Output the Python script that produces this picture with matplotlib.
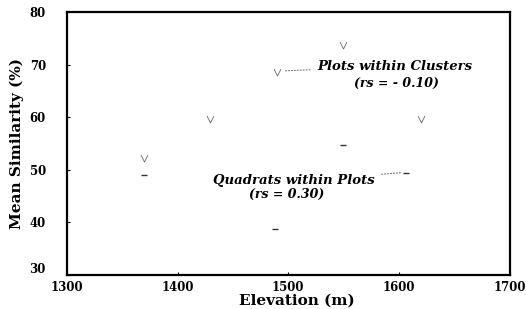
import matplotlib.pyplot as plt
from matplotlib import transforms

# data
cluster_elev = [1370, 1429, 1490, 1549, 1620]
cluster_sim = [52.2, 59.7, 68.6, 73.7, 59.7]

quadrat_elev = [1370, 1488, 1549, 1606]
quadrat_sim = [49.0, 38.7, 54.7, 49.4]

xticks = [1300, 1400, 1500, 1600, 1700]
yticks = [30, 40, 50, 60, 70, 80]

plt.rcParams['font.family'] = ['DejaVu Serif']

fig = plt.figure(figsize=(5.26, 3.09), dpi=100)
ax = fig.add_axes([0.127, 0.110, 0.842, 0.851])

vee = [(-1, 1), (0, -1), (1, 1)]
ax.plot(cluster_elev, cluster_sim, linestyle='none', marker=vee, markersize=5,
        fillstyle='none', markeredgewidth=0.6, color='#666666')
ax.plot(quadrat_elev, quadrat_sim, linestyle='none', marker='_', markersize=5,
        markeredgewidth=1.0, color='#333333')

ax.set_xlim(1300, 1700)
ax.set_ylim(30, 80)
ax.set_xticks(xticks)
ax.set_yticks(yticks)
ax.tick_params(direction='in', length=2, width=0.8, labelsize=8.5)
ax.tick_params(axis='y', pad=15)
ax.tick_params(axis='x', pad=4)
for lab in ax.get_xticklabels() + ax.get_yticklabels():
    lab.set_fontweight('bold')
# the "30" sits a little above the corner so it clears "1300"
lab30 = ax.get_yticklabels()[0]
lab30.set_transform(lab30.get_transform() +
                    transforms.ScaledTranslation(0, 5 / 72, fig.dpi_scale_trans))
for sp in ax.spines.values():
    sp.set_linewidth(1.6)

ax.set_xlabel('Elevation (m)', fontsize=11, fontweight='bold', labelpad=0, x=0.52)
ax.set_ylabel('Mean Similarity (%)', fontsize=11, fontweight='bold', labelpad=4)

ax.annotate('Plots within Clusters', xy=(1494, 68.8), xytext=(1526, 69.7),
            fontsize=9.5, fontweight='bold', style='italic', va='center', ha='left',
            arrowprops=dict(arrowstyle='-', linestyle=':', lw=0.8, color='#777777',
                            shrinkA=3, shrinkB=2))
ax.text(1559, 66.5, '(rs = - 0.10)', fontsize=9, fontweight='bold', style='italic',
        va='center', ha='left')

ax.annotate('Quadrats within Plots', xy=(1605, 49.5), xytext=(1432, 47.9),
            fontsize=9.5, fontweight='bold', style='italic', va='center', ha='left',
            arrowprops=dict(arrowstyle='-', linestyle=':', lw=0.8, color='#777777',
                            shrinkA=3, shrinkB=2))
ax.text(1465, 45.4, '(rs = 0.30)', fontsize=9, fontweight='bold', style='italic',
        va='center', ha='left')

fig.savefig('out.png', dpi=100)
